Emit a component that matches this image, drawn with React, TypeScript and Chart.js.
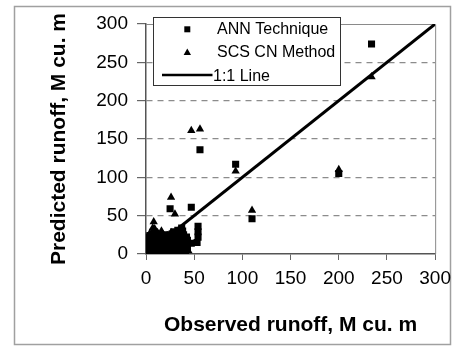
import React, { useEffect, useRef } from "react";
import { Chart, registerables } from "chart.js";

Chart.register(...registerables);

// Observed vs predicted runoff (M cu. m)
const annObserved = [
  234, 200, 93, 110, 56, 47, 25, 54, 54, 54, 53, 47,
  1, 2, 3, 4, 5, 6, 7, 8, 9, 10, 11, 12, 13, 14, 15, 16, 17, 18, 19, 20,
  21, 22, 23, 24, 25, 26, 27, 28, 29, 30, 31, 32, 33, 34, 35, 36, 37, 38,
  39, 40, 3, 5, 8, 2, 4, 10, 12, 15, 18, 22, 26, 30, 34, 38, 42, 41, 0, 1,
  2, 6, 10, 14, 19, 24, 28, 33, 37, 41, 6, 9, 13, 17, 20, 24, 27, 31, 35, 39,
  43, 43, 1, 4, 7, 11, 15, 19, 23, 27, 32, 36, 9, 14, 18, 21, 25, 29, 33, 37,
];
const annPredicted = [
  274, 105, 117, 46, 136, 61, 59, 36, 29, 22, 15, 14,
  2, 5, 1, 8, 3, 12, 6, 2, 15, 9, 4, 18, 11, 7, 20, 3, 14, 10, 22, 5,
  17, 12, 24, 8, 19, 14, 26, 6, 21, 16, 27, 11, 23, 18, 28, 14, 22, 30,
  25, 20, 18, 20, 22, 12, 15, 24, 2, 1, 1, 2, 2, 3, 5, 10, 22, 15, 6, 10,
  0, 0, 1, 0, 0, 1, 0, 1, 2, 4, 8, 6, 3, 6, 9, 13, 18, 20, 23, 16,
  8, 18, 22, 24, 25, 20, 23, 25, 20, 22, 24, 26, 12, 14, 18, 21, 25, 29, 31, 34,
];

const scsObserved = [
  234, 200, 47, 56, 93, 110, 26, 30, 8,
  1, 2, 3, 4, 5, 6, 7, 8, 9, 10, 11, 12, 13, 14, 15, 16, 17, 18, 19, 20,
  21, 22, 23, 24, 25, 26, 27, 28, 29, 30, 31, 32, 33, 34, 35, 36, 37, 38,
  39, 40, 2, 4, 6, 8, 3, 12, 16, 9, 0,
  7, 9, 10, 5, 20, 25, 30, 35, 40, 44,
];
const scsPredicted = [
  231, 110, 161, 163, 108, 57, 74, 52, 42,
  1, 4, 9, 2, 14, 6, 19, 3, 10, 25, 1, 7, 16, 22, 4, 12, 27, 8, 18, 2,
  13, 23, 6, 16, 3, 28, 10, 20, 1, 14, 24, 7, 18, 2, 12, 21, 5, 15,
  9, 3, 20, 27, 24, 30, 14, 28, 30, 33, 8,
  34, 31, 22, 0, 0, 1, 0, 1, 2, 4,
];

const lineObserved = [0, 300];
const linePredicted = [0, 300];

const seriesLabels = ["ANN Technique", "SCS CN Method", "1:1 Line"];
const axisMin = 0;
const axisMax = 300;
const axisStep = 50;

const xTitle = "Observed runoff, M cu. m";
const yTitle = "Predicted runoff, M cu. m";

const FONT = "'Liberation Sans', Arial, Helvetica, sans-serif";

const toPoints = (xs: number[], ys: number[]) => xs.map((x, i) => ({ x, y: ys[i] }));

// Outer frame, plot-area border and the boxed legend
const decorations = {
  id: "decorations",
  beforeDraw(chart: any) {
    const ctx = chart.ctx;
    ctx.save();
    ctx.fillStyle = "#ffffff";
    ctx.fillRect(0, 0, chart.width, chart.height);
    ctx.strokeStyle = "#a0a0a0";
    ctx.lineWidth = 1.5;
    ctx.strokeRect(14.5, 6.5, 436, 338);
    ctx.restore();
  },
  beforeDatasetsDraw(chart: any) {
    const { ctx, chartArea } = chart;
    const { left, top, right, bottom } = chartArea;
    ctx.save();
    ctx.strokeStyle = "#8a8a8a";
    ctx.lineWidth = 1;
    ctx.beginPath();
    ctx.moveTo(left, top + 0.5);
    ctx.lineTo(right + 0.5, top + 0.5);
    ctx.lineTo(right + 0.5, bottom);
    ctx.stroke();
    ctx.restore();
  },
  afterDraw(chart: any) {
    const ctx = chart.ctx;
    const labels = chart.data.datasets.map((d: any) => d.label);
    ctx.save();
    const bx = 153.5, by = 17.5, bw = 187, bh = 68;
    ctx.fillStyle = "#ffffff";
    ctx.fillRect(bx, by, bw, bh);
    ctx.strokeStyle = "#333333";
    ctx.lineWidth = 1;
    ctx.strokeRect(bx, by, bw, bh);

    ctx.fillStyle = "#000";
    ctx.font = `16px ${FONT}`;
    ctx.textAlign = "left";
    ctx.textBaseline = "alphabetic";

    // square marker
    ctx.fillRect(184.3, 26.3, 6, 6);
    ctx.fillText(labels[0], 217, 34);

    // triangle marker
    ctx.beginPath();
    ctx.moveTo(187.3, 48.5);
    ctx.lineTo(191, 55);
    ctx.lineTo(183.6, 55);
    ctx.closePath();
    ctx.fill();
    ctx.fillText(labels[1], 217, 57);

    // line sample
    ctx.strokeStyle = "#000";
    ctx.lineWidth = 2.6;
    ctx.beginPath();
    ctx.moveTo(162, 75);
    ctx.lineTo(212.5, 75);
    ctx.stroke();
    ctx.fillText(labels[2], 213, 80.5);
    ctx.restore();
  },
};

export default function App() {
  const canvasRef = useRef<HTMLCanvasElement | null>(null);

  useEffect(() => {
    document.body.style.margin = "0";
    const canvas = canvasRef.current;
    if (!canvas) return;

    const tickFont = { family: FONT, size: 19 };
    const titleFont = { family: FONT, size: 21, weight: "bold" as const };

    const chart = new Chart(canvas, {
      type: "scatter",
      data: {
        datasets: [
          {
            label: seriesLabels[0],
            data: toPoints(annObserved, annPredicted),
            pointStyle: "rect",
            pointRadius: 5,
            backgroundColor: "#000",
            borderColor: "#000",
            borderWidth: 0,
          },
          {
            label: seriesLabels[1],
            data: toPoints(scsObserved, scsPredicted),
            pointStyle: "triangle",
            pointRadius: 4.8,
            backgroundColor: "#000",
            borderColor: "#000",
            borderWidth: 0,
          },
          {
            label: seriesLabels[2],
            data: toPoints(lineObserved, linePredicted),
            showLine: true,
            borderColor: "#000",
            borderWidth: 3,
            pointRadius: 0,
          },
        ],
      },
      options: {
        animation: false,
        responsive: true,
        maintainAspectRatio: false,
        layout: { padding: { left: 0, right: 20, top: 24, bottom: 0 } },
        plugins: {
          legend: { display: false },
          tooltip: { enabled: false },
        },
        scales: {
          x: {
            type: "linear",
            min: axisMin,
            max: axisMax,
            afterFit: (scale: any) => {
              scale.height = 93;
            },
            ticks: { stepSize: axisStep, font: tickFont, color: "#000", padding: 7, maxRotation: 0 },
            grid: {
              drawOnChartArea: false,
              drawTicks: true,
              tickLength: 6,
              tickColor: "#666",
              tickBorderDash: [],
            },
            border: { display: true, color: "#555", width: 1.5 },
            title: {
              display: true,
              text: xTitle,
              font: titleFont,
              color: "#000",
              padding: { top: 0, bottom: 9 },
            },
          },
          y: {
            type: "linear",
            min: axisMin,
            max: axisMax,
            afterFit: (scale: any) => {
              scale.width = 146;
            },
            ticks: { stepSize: axisStep, font: tickFont, color: "#000", padding: 9 },
            grid: {
              drawOnChartArea: true,
              drawTicks: true,
              tickLength: 9,
              color: (c: any) =>
                c.tick && (c.tick.value === axisMin || c.tick.value === axisMax) ? "rgba(0,0,0,0)" : "#8c8c8c",
              tickColor: "#666",
              tickBorderDash: [],
              lineWidth: 1.2,
            },
            border: { display: true, color: "#555", width: 1.5, dash: [6, 5] },
            title: {
              display: true,
              text: yTitle,
              font: titleFont,
              color: "#000",
              padding: { top: 47, bottom: 0 },
            },
          },
        },
      },
      plugins: [decorations],
    });

    return () => chart.destroy();
  }, []);

  return (
    <div style={{ width: 458, height: 347, position: "relative" }}>
      <canvas ref={canvasRef} />
    </div>
  );
}
